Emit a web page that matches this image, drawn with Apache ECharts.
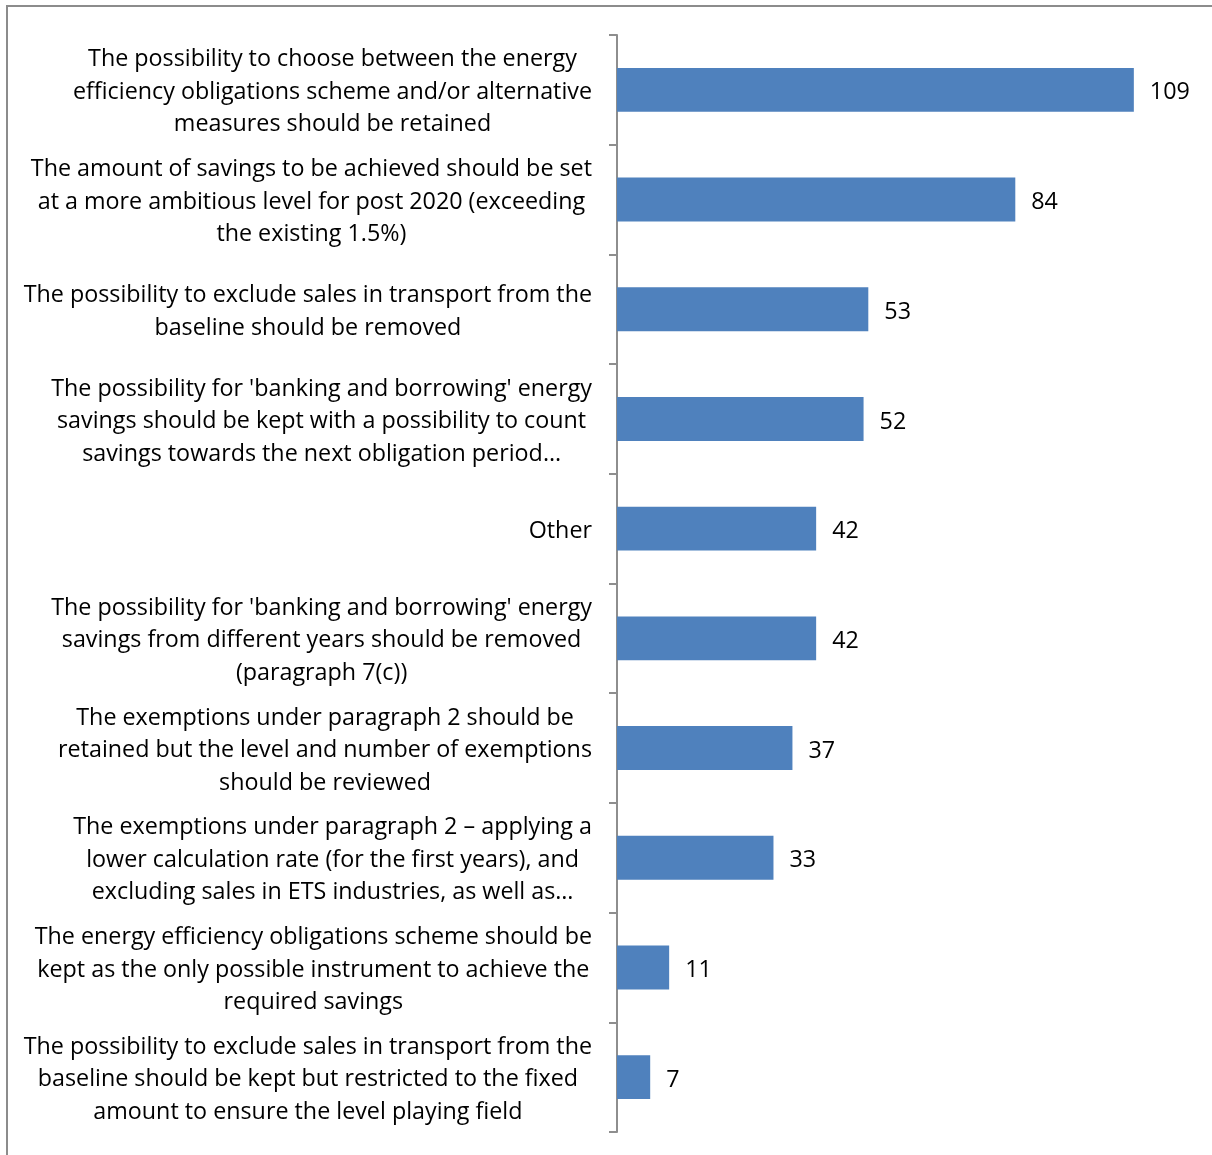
<!DOCTYPE html>
<html>
<head>
<meta charset="utf-8">
<script src="https://cdn.jsdelivr.net/npm/echarts@6/dist/echarts.min.js"></script>
<style>
  html, body { margin: 0; padding: 0; background: #ffffff; }
  #chart { width: 1212px; height: 1155px; }
</style>
</head>
<body>
<div id="chart"></div>
<script>
// Answer options, top to bottom, with the wrapped lines as shown
const categories = [
  'The possibility to choose between the energy\nefficiency obligations scheme and/or alternative\nmeasures should be retained',
  'The amount of savings to be achieved should be set\nat a more ambitious level for post 2020 (exceeding\nthe existing 1.5%)',
  'The possibility to exclude sales in transport from the\nbaseline should be removed',
  "The possibility for 'banking and borrowing' energy\nsavings should be kept with a possibility to count\nsavings towards the next obligation period…",
  'Other',
  "The possibility for 'banking and borrowing' energy\nsavings from different years should be removed\n(paragraph 7(c))",
  'The exemptions under paragraph 2 should be\nretained but the level and number of exemptions\nshould be reviewed',
  'The exemptions under paragraph 2 – applying a\nlower calculation rate (for the first years), and\nexcluding sales in ETS industries, as well as…',
  'The energy efficiency obligations scheme should be\nkept as the only possible instrument to achieve the\nrequired savings',
  'The possibility to exclude sales in transport from the\nbaseline should be kept but restricted to the fixed\namount to ensure the level playing field'
];

// Number of responses per option
const responses = [109, 84, 53, 52, 42, 42, 37, 33, 11, 7];

const FONT = '"Open Sans", "Liberation Sans", sans-serif';

const chart = echarts.init(document.getElementById('chart'), null, { renderer: 'canvas' });

chart.setOption({
  animation: false,
  backgroundColor: '#ffffff',
  graphic: [{
    type: 'rect',
    shape: { x: 7, y: 6, width: 1400, height: 1400 },
    style: { fill: 'none', stroke: '#8c8c8c', lineWidth: 2 },
    silent: true
  }],
  grid: { left: 617, right: 26, top: 35, bottom: 23, containLabel: false },
  xAxis: {
    type: 'value',
    min: 0,
    max: 120,
    show: false
  },
  yAxis: {
    type: 'category',
    inverse: true,
    data: categories,
    axisLine: { show: true, lineStyle: { color: '#8e8e8e', width: 2 } },
    axisTick: { show: true, length: 8, lineStyle: { color: '#8e8e8e', width: 2 } },
    axisLabel: {
      margin: 25,
      padding: [5, 0, 0, 0],
      formatter: function (v) {
        return v.split('\n').map(function (l) { return '{a|' + l + '}'; }).join('\n');
      },
      rich: {
        a: {
          align: 'center',
          fontFamily: FONT,
          fontSize: 23.3,
          lineHeight: 32.5,
          color: '#000000'
        }
      }
    },
    splitLine: { show: false }
  },
  series: [{
    type: 'bar',
    data: responses,
    barCategoryGap: '60%',
    itemStyle: { color: '#4f81bd' },
    label: {
      show: true,
      position: 'right',
      distance: 16,
      offset: [0, 3],
      fontFamily: FONT,
      fontSize: 23.3,
      color: '#000000'
    }
  }]
});
</script>
</body>
</html>
